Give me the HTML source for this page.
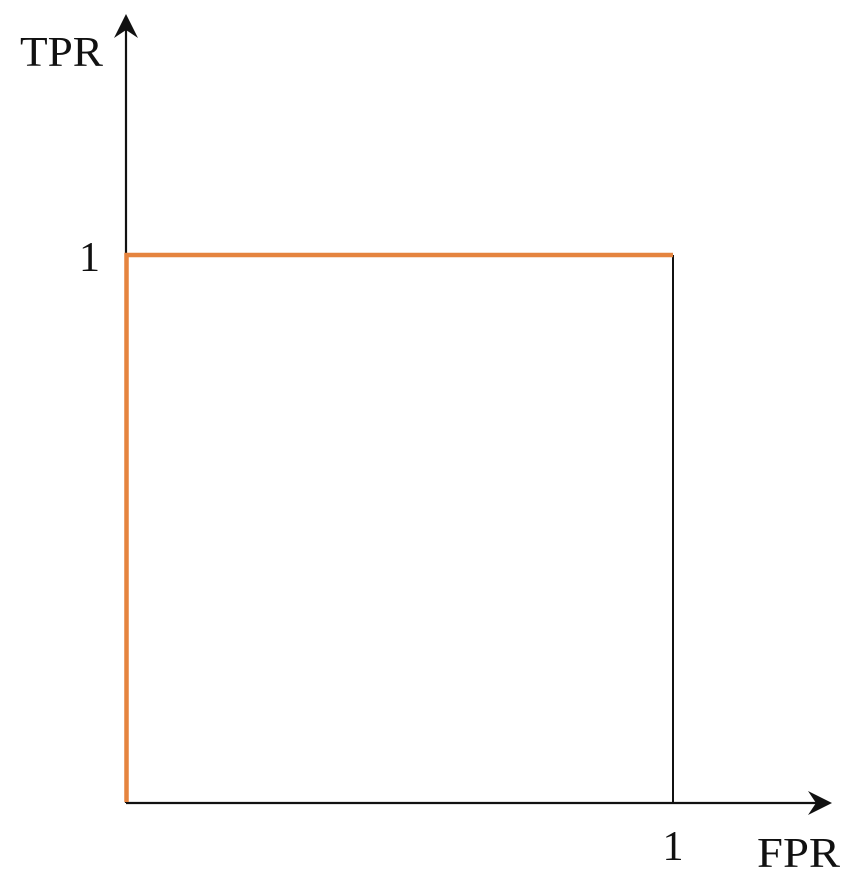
<!DOCTYPE html>
<html><head><meta charset="utf-8"><style>
html,body{margin:0;padding:0;background:#fff;}
svg{display:block;}
text{font-family:"Liberation Serif","Times New Roman",serif;fill:#111;}
</style></head><body>
<svg id="chart" width="862" height="884">
<g id="axes">
<line x1="126" y1="803" x2="126" y2="20" stroke="#111" stroke-width="2.2"/>
<path d="M126,14 L114,38 L126,30 L138,38 Z" fill="#111"/>
<line x1="126" y1="803" x2="826" y2="803" stroke="#111" stroke-width="2.2"/>
<path d="M832,803 L808,791 L816,803 L808,815 Z" fill="#111"/>
<text x="20" y="66" font-size="42" textLength="83" lengthAdjust="spacingAndGlyphs">TPR</text>
<text x="757" y="867" font-size="42" textLength="83" lengthAdjust="spacingAndGlyphs">FPR</text>
</g>
<g id="marks"></g>
</svg>
<script>
const fprValues = [0, 0, 1];
const tprValues = [0, 1, 1];
const tickValues = [1];
const tickLabels = ["1"];
const X0=126, X1=673, Y0=802, Y1=255;
function xs(v){return X0+(X1-X0)*v;}
function ys(v){return Y0+(Y1-Y0)*v;}
const ns="http://www.w3.org/2000/svg";
const marks=document.getElementById('marks');
const axes=document.getElementById('axes');
const g=document.createElementNS(ns,'line');
g.setAttribute('x1',xs(1));g.setAttribute('x2',xs(1));
g.setAttribute('y1',ys(tprValues[tprValues.length-1]));g.setAttribute('y2',ys(0));
g.setAttribute('stroke','#111');g.setAttribute('stroke-width','2');


marks.appendChild(g);
const pts=fprValues.map((f,i)=>xs(f)+(i===0||i===1?0.5:0)+','+ys(tprValues[i])).join(' ');
const pl=document.createElementNS(ns,'polyline');
pl.setAttribute('points',pts);
pl.setAttribute('fill','none');pl.setAttribute('stroke','#E5843F');pl.setAttribute('stroke-width','4.5');


marks.appendChild(pl);
tickValues.forEach((v,i)=>{
  const tx=document.createElementNS(ns,'text');
  tx.setAttribute('x',xs(v));tx.setAttribute('y',860);tx.setAttribute('font-size','42');tx.setAttribute('text-anchor','middle');
  tx.textContent=tickLabels[i];
  
  
  axes.appendChild(tx);
  const ty=document.createElementNS(ns,'text');
  ty.setAttribute('x',100);ty.setAttribute('y',ys(v)+16);ty.setAttribute('font-size','42');ty.setAttribute('text-anchor','end');
  ty.textContent=tickLabels[i];
  
  
  axes.appendChild(ty);
});
</script>
</body></html>
